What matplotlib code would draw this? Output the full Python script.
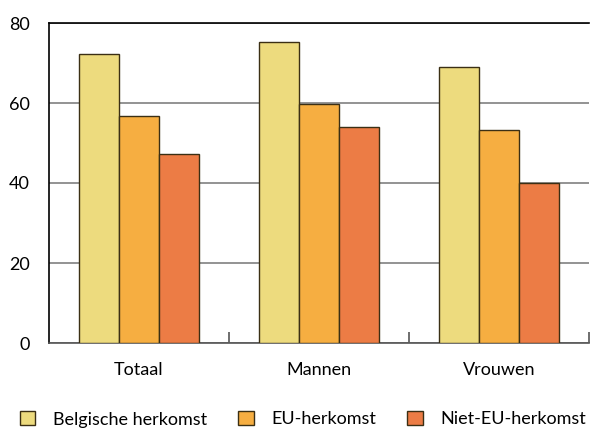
import numpy as np
import matplotlib
matplotlib.use("Agg")
import matplotlib.pyplot as plt

categories = ["Totaal", "Mannen", "Vrouwen"]
series_names = ["Belgische herkomst", "EU-herkomst", "Niet-EU-herkomst"]
belgisch = [72.3, 75.3, 69.0]
eu = [56.7, 59.7, 53.2]
niet_eu = [47.3, 54.0, 40.0]
colors = ["#EDDB7E", "#F6AE41", "#EC7C45"]
yticks = [0, 20, 40, 60, 80]

plt.rcParams['font.family'] = ['Lato', 'DejaVu Sans']

fig = plt.figure(figsize=(5.93, 4.28), dpi=100)
ax = fig.add_axes([49/593, 1 - 343/428, 540/593, 320/428])

x = np.arange(len(categories))
w = 2/9
for i, (vals, name) in enumerate(zip([belgisch, eu, niet_eu], series_names)):
    ax.bar(x + (i - 1) * w, vals, w, color=colors[i], edgecolor="#3b2f14",
           linewidth=1.0, label=name, zorder=3)

ax.set_xlim(-0.5, 2.5)
ax.set_ylim(0, 80)
ax.set_yticks(yticks)
ax.yaxis.grid(True, color="#808080", linewidth=1.2, zorder=0)
ax.set_axisbelow(True)
ax.tick_params(axis='y', length=0, labelsize=13, pad=14)
ax.set_xticks(x)
ax.set_xticklabels(categories, fontsize=13)
ax.tick_params(axis='x', length=0, pad=14)
ax.set_xticks([0.5, 1.5, 2.5], minor=True)
ax.tick_params(axis='x', which='minor', direction='in', length=8, color="#555555", width=1.2)

ax.spines['right'].set_visible(False)
ax.spines['top'].set_color("black")
ax.spines['left'].set_color("black")
ax.spines['bottom'].set_color("#555555")
for s in ['top', 'left', 'bottom']:
    ax.spines[s].set_linewidth(1.2)

fig.legend(loc='lower left', bbox_to_anchor=(20/593, 0.5/428), ncol=3, frameon=False,
           fontsize=13, handlelength=0.85, handleheight=0.85, columnspacing=1.7,
           handletextpad=1.0, borderaxespad=0, borderpad=0)

fig.savefig("out.png", dpi=100)
